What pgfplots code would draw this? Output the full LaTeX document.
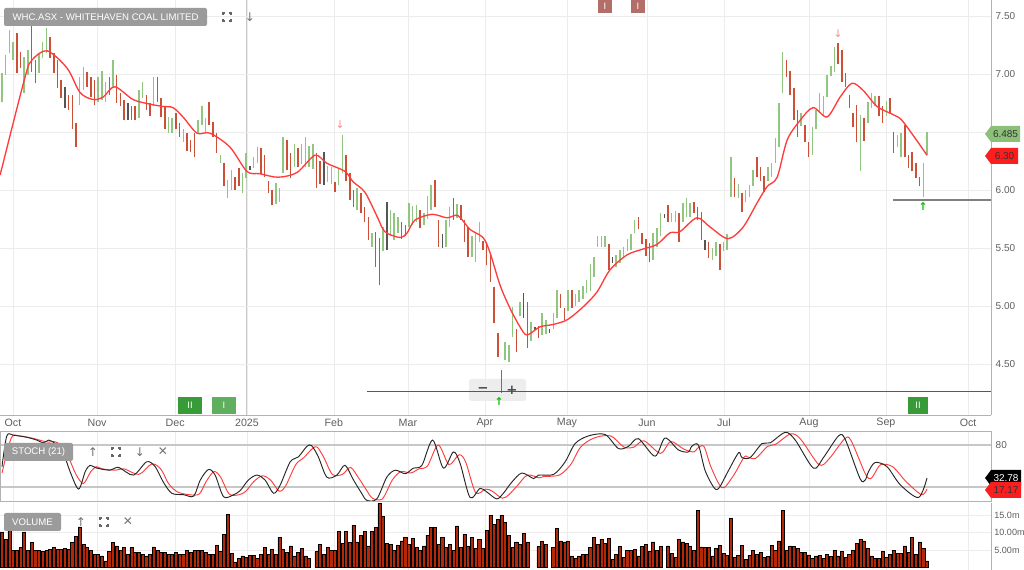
\documentclass[border=0pt]{standalone}
\usepackage{fontspec}
\setmainfont{Liberation Sans}
\newfontfamily\dejavu{DejaVu Sans}
\usepackage{pgfplots}
\usepackage{pgfplotstable}
\pgfplotsset{compat=1.18}

\definecolor{upg}{RGB}{145,198,128}
\definecolor{dnr}{RGB}{203,80,55}
\definecolor{ntg}{RGB}{85,85,85}
\definecolor{mared}{RGB}{255,60,60}
\definecolor{volc}{RGB}{178,40,8}
\definecolor{gridc}{RGB}{236,236,236}
\definecolor{lbl}{RGB}{95,95,95}
\definecolor{boxg}{RGB}{155,155,155}
\definecolor{tagg}{RGB}{140,192,120}
\definecolor{tagr}{RGB}{250,30,30}
\definecolor{sigg}{RGB}{55,155,55}
\definecolor{evb}{RGB}{180,110,105}

% price bars: index, high, low
\pgfplotstableread{
i h l
0 7.01 6.76
1 7.16 6.99
2 7.38 7.18
3 7.28 7.12
6 7.15 6.84
7 7.21 6.99
10 7.18 7.01
11 7.28 7.14
12 7.40 7.18
21 6.97 6.73
22 7.06 6.86
26 6.97 6.76
27 7.03 6.78
28 6.93 6.76
30 7.12 6.88
37 6.86 6.62
38 6.93 6.79
41 6.97 6.72
45 6.63 6.49
46 6.62 6.49
49 6.53 6.41
53 6.60 6.49
54 6.72 6.56
55 6.62 6.50
59 6.30 6.23
61 6.09 5.93
62 6.17 6.00
65 6.15 5.97
66 6.32 6.10
68 6.28 6.19
69 6.37 6.23
74 6.06 5.88
75 6.02 5.90
76 6.46 6.15
79 6.40 6.20
81 6.40 6.22
82 6.46 6.20
83 6.38 6.20
84 6.40 6.18
88 6.21 6.07
89 6.20 6.05
91 6.19 6.04
92 6.47 6.15
96 6.02 5.83
100 5.63 5.51
103 5.68 5.47
105 5.83 5.60
106 5.80 5.57
107 5.77 5.63
110 5.89 5.68
111 5.86 5.70
112 5.87 5.72
114 5.80 5.70
115 5.95 5.75
116 6.04 5.83
120 5.74 5.51
121 5.85 5.68
123 5.88 5.76
127 5.60 5.42
128 5.63 5.38
129 5.72 5.55
136 4.69 4.53
137 4.66 4.52
138 4.99 4.73
140 5.03 4.91
143 4.86 4.70
146 4.94 4.75
147 4.88 4.76
149 4.94 4.80
150 5.14 4.90
153 5.14 4.96
155 5.10 5.00
156 5.14 5.03
157 5.17 5.06
158 5.22 5.11
159 5.36 5.13
160 5.42 5.25
161 5.60 5.51
162 5.60 5.51
163 5.60 5.51
166 5.44 5.34
167 5.48 5.37
168 5.51 5.42
169 5.58 5.47
170 5.62 5.48
171 5.74 5.63
176 5.63 5.40
177 5.67 5.51
178 5.80 5.60
181 5.80 5.72
182 5.82 5.72
184 5.89 5.72
185 5.93 5.77
186 5.89 5.77
192 5.50 5.40
193 5.55 5.43
195 5.55 5.47
196 5.62 5.48
197 6.28 5.94
199 6.05 5.93
201 6.00 5.90
202 6.04 5.94
203 6.17 6.03
207 6.20 6.08
208 6.23 6.11
209 6.45 6.23
210 6.75 6.37
211 7.19 6.84
216 6.66 6.55
219 6.54 6.30
220 6.69 6.53
221 6.84 6.67
222 6.81 6.64
223 6.99 6.80
224 7.07 6.98
225 7.23 7.02
232 6.65 6.16
234 6.76 6.58
235 6.84 6.71
236 6.81 6.72
239 6.77 6.64
242 6.47 6.37
243 6.49 6.28
249 6.23 5.94
250 6.50 6.30
}\upbars

\pgfplotstableread{
i h l
4 7.35 7.01
5 7.19 7.05
8 7.47 7.02
9 7.12 6.92
13 7.32 7.14
14 7.18 7.01
15 7.12 6.88
16 6.95 6.79
18 6.82 6.69
19 6.82 6.53
20 6.58 6.37
23 7.02 6.89
24 6.97 6.80
25 6.95 6.73
29 6.97 6.82
31 6.99 6.75
32 6.84 6.72
33 6.78 6.60
35 6.72 6.60
36 6.72 6.60
39 6.82 6.69
40 6.75 6.64
42 6.97 6.76
43 6.79 6.63
44 6.72 6.53
47 6.66 6.53
48 6.58 6.46
50 6.49 6.34
51 6.43 6.33
52 6.49 6.28
56 6.76 6.56
57 6.59 6.46
58 6.49 6.32
60 6.23 6.03
63 6.11 6.00
64 6.19 6.03
70 6.36 6.14
71 6.30 6.11
72 6.08 5.97
73 6.00 5.87
77 6.43 6.17
78 6.32 6.10
80 6.36 6.20
85 6.32 6.02
86 6.25 6.05
90 6.07 5.98
93 6.30 6.08
94 6.15 5.91
95 6.00 5.85
97 5.97 5.80
98 5.85 5.72
99 5.77 5.57
101 5.64 5.34
102 5.59 5.18
108 5.72 5.58
109 5.70 5.60
113 5.83 5.67
117 6.09 5.85
118 5.74 5.51
122 5.93 5.74
124 5.87 5.74
125 5.74 5.55
126 5.68 5.42
130 5.56 5.48
131 5.55 5.35
132 5.46 5.21
133 5.16 4.85
134 4.77 4.56
135 4.45 4.25
139 4.80 4.60
142 5.03 4.64
145 4.83 4.72
151 5.10 4.98
152 4.98 4.88
154 5.14 4.98
164 5.53 5.31
172 5.77 5.66
173 5.63 5.53
174 5.58 5.43
175 5.54 5.38
180 5.87 5.72
183 5.80 5.55
187 5.90 5.80
188 5.85 5.74
189 5.81 5.57
191 5.55 5.41
194 5.53 5.31
198 6.10 5.94
200 5.97 5.81
204 6.28 6.11
205 6.20 6.08
206 6.12 5.98
212 7.12 6.97
213 7.03 6.82
214 6.88 6.60
215 6.69 6.46
217 6.56 6.41
218 6.41 6.28
226 7.27 7.09
227 7.21 6.93
228 7.01 6.89
229 6.82 6.71
230 6.66 6.54
231 6.73 6.41
233 6.62 6.42
237 6.81 6.64
238 6.72 6.58
240 6.79 6.66
241 6.50 6.32
244 6.56 6.28
245 6.30 6.19
246 6.33 6.16
247 6.23 6.10
248 6.11 6.03
}\dnbars

\pgfplotstableread{
i h l
17 6.89 6.71
34 6.75 6.60
67 6.21 6.17
87 6.33 6.04
104 5.90 5.48
119 5.62 5.50
141 5.11 4.90
144 4.82 4.79
148 4.80 4.77
165 5.42 5.37
179 5.79 5.76
190 5.57 5.48
}\ntbars

% moving average
\pgfplotstableread{
i m
-0.5 6.13
6.2 6.97
8.1 7.12
12.2 7.20
17.6 7.05
21.1 6.84
24.6 6.78
27.3 6.80
30.5 6.89
35.4 6.78
40.0 6.74
43.5 6.72
46.2 6.71
48.9 6.63
52.7 6.49
56.2 6.49
61.6 6.37
66.2 6.16
69.7 6.14
74.6 6.11
79.7 6.15
84.6 6.30
87.8 6.23
92.7 6.16
94.9 6.07
98.1 5.98
101.4 5.77
103.5 5.64
107.6 5.59
109.5 5.63
111.6 5.74
116.2 5.79
120.3 5.76
123.2 5.78
126.5 5.66
130.0 5.59
131.9 5.46
134.6 5.18
137.3 4.98
140.0 4.82
141.9 4.75
145.4 4.82
148.9 4.84
152.7 4.88
157.0 4.99
160.8 5.12
164.3 5.31
168.9 5.44
173.2 5.49
177.0 5.53
180.5 5.63
183.2 5.64
187.8 5.76
191.4 5.68
196.2 5.58
200.3 5.68
204.1 5.89
206.8 6.03
209.5 6.11
212.2 6.43
215.7 6.60
219.2 6.71
223.0 6.63
226.5 6.80
229.7 6.92
232.7 6.86
236.5 6.72
240.8 6.65
243.5 6.59
250.0 6.30
}\ma

% stochastic %K and %D
\pgfplotstableread{
i k
0 49
1.3 93
3.1 94
6.7 91
9.4 87
11.2 83
12.6 87
14.4 82
16.6 68
18.4 42
20.7 17
22.5 42
23.8 51
25.6 47
29.2 44
31.5 48
35.5 37
39.1 56
41.4 49
43.6 27
45.9 11
49.1 9
51.8 7
53.6 30
55.8 45
57.6 37
59.9 6
62.6 9
64.4 15
66.6 30
68.9 37
71.1 30
73.4 11
75.2 23
77.9 56
80.1 63
82.4 78
83.7 79
85.5 63
87.8 34
90.5 37
92.7 51
95.0 30
97.2 11
98.6 1
101.3 3
104.0 34
106.3 44
109.0 39
111.2 47
113.5 51
116.4 87
119.3 47
122.0 70
123.8 54
126.5 5
129.2 18
131.0 13
133.7 3
135.5 11
137.8 27
140.5 40
143.7 32
145.0 37
149.1 38
152.2 56
154.9 82
158.5 93
163.0 95
166.6 75
169.3 78
172.0 89
176.5 64
179.2 90
182.8 73
185.5 70
186.4 78
188.2 80
190.0 44
192.3 20
193.7 18
196.4 44
199.1 69
200.0 62
202.2 62
205.4 82
207.6 83
211.7 98
214.4 87
219.3 47
222.0 62
226.1 93
227.9 88
231.9 32
233.3 30
234.2 42
236.0 55
239.2 49
242.8 23
247.7 5
250.0 32.78
}\stk

\pgfplotstableread{
i d
0 40
2.5 90
4.5 93
8.0 90
10.8 86
12.7 84
14.0 85
15.9 80
18.0 62
20.0 38
22.0 25
24.0 42
25.5 49
27.0 46
30.7 44
33.0 46
37.0 38
40.5 53
43.0 45
45.0 25
47.4 13
50.6 9
53.3 10
55.2 28
57.3 42
59.1 34
61.4 10
64.1 9
65.9 14
68.1 28
70.4 36
72.6 30
74.9 14
76.7 22
79.4 52
81.6 62
83.9 75
85.2 77
87.0 62
89.3 38
92.0 38
94.2 48
96.5 32
98.7 14
100.1 4
102.8 3
105.5 30
107.8 42
110.5 40
112.7 46
115.0 50
117.9 80
120.8 52
123.5 66
125.3 56
128.0 12
130.7 17
132.5 14
135.2 4
137.0 9
139.3 22
142.0 37
145.2 33
146.5 35
150.6 37
153.7 52
156.4 77
160.0 90
164.5 93
168.1 77
170.8 77
173.5 86
178.0 68
180.7 85
184.3 74
187.0 70
187.9 75
189.7 78
191.5 50
193.8 24
195.2 19
197.9 38
200.6 63
201.5 63
203.7 61
206.9 78
209.1 81
213.2 96
215.9 88
220.8 52
223.5 60
227.6 88
229.4 87
233.4 38
234.8 32
235.7 38
237.5 52
240.7 49
244.3 28
248.5 9
250.0 17.17
}\std

% volume in millions
\pgfplotstableread{
i v
0 10.2
1 8.1
2 10.7
3 4.8
4 4.8
5 5.7
6 10.2
7 4.8
8 7.1
9 4.8
10 4.8
11 4.5
12 4.8
13 5.2
14 5.7
15 5.2
16 5.2
17 5.5
18 5.2
19 7.1
20 9.0
21 11.6
22 6.7
23 5.7
24 4.8
25 3.8
26 3.8
27 3.3
28 1.9
29 4.5
30 7.1
31 6.2
32 4.8
33 5.7
34 3.8
35 5.7
36 4.3
37 4.3
38 3.8
39 3.3
40 3.8
41 5.9
42 5.0
43 4.3
44 4.3
45 3.8
46 3.8
47 4.3
48 3.8
49 3.8
50 5.0
51 4.3
52 4.8
53 4.8
54 4.8
55 4.3
56 3.8
57 3.8
58 6.4
59 4.5
60 9.5
61 15.2
62 4.0
63 1.6
64 2.6
65 3.3
66 2.9
67 3.5
68 3.5
69 2.6
70 3.8
71 5.7
72 3.8
73 5.2
74 3.8
75 8.6
76 5.2
77 4.3
78 6.2
79 3.3
80 4.3
81 5.4
82 3.3
83 2.7
85 4.5
86 6.7
87 3.8
88 5.7
89 4.8
90 4.8
91 10.3
92 7.0
93 10.3
94 7.1
95 12.1
96 7.3
97 9.2
98 10.3
99 6.2
100 10.3
101 11.4
102 18.3
103 14.6
104 7.0
105 6.7
106 4.8
107 6.4
108 7.6
109 8.6
110 6.7
111 8.3
112 5.7
113 4.8
114 6.2
115 9.2
116 11.4
117 11.4
118 6.7
119 8.6
120 5.7
121 6.7
122 4.8
123 11.9
124 5.7
125 9.5
126 6.2
127 8.6
128 5.4
129 8.1
130 5.4
131 10.5
132 15.0
133 12.4
134 13.8
135 14.8
136 12.9
137 9.2
138 5.7
139 7.3
140 6.7
141 9.8
142 7.3
145 6.0
146 7.5
147 6.7
149 5.7
150 11.1
151 7.6
152 7.3
153 7.6
154 3.3
155 2.6
156 3.3
157 3.8
158 3.8
159 5.7
160 8.6
161 6.7
162 8.1
163 7.0
164 8.4
165 2.4
166 3.8
167 6.0
168 2.9
169 4.8
170 4.8
171 5.2
172 3.3
173 6.0
174 6.7
175 4.5
176 7.3
177 4.8
178 6.0
180 6.2
181 4.0
182 2.9
183 8.1
184 7.3
185 7.0
186 6.2
187 4.8
188 16.4
189 5.9
190 5.7
191 5.7
192 3.3
193 5.4
194 6.4
195 4.0
196 3.5
197 14.1
198 2.9
199 3.5
200 6.4
201 2.4
202 3.5
203 4.8
204 3.8
205 4.3
206 2.9
207 3.1
208 6.4
209 4.8
210 7.6
211 16.4
212 5.0
213 6.2
214 6.0
215 5.4
216 4.3
217 4.3
218 3.6
219 2.6
220 3.3
221 3.5
222 2.6
223 3.8
224 3.1
225 4.8
226 3.3
227 4.5
228 2.9
229 3.8
230 5.0
231 7.0
232 8.1
233 7.6
234 5.4
235 3.3
236 2.6
237 2.6
238 4.5
239 2.9
240 3.8
241 5.0
242 4.1
243 4.1
244 6.2
245 4.3
246 8.6
247 3.8
248 7.3
249 5.4
250 1.9
}\vol

\pgfplotsset{
  panel/.style={
    scale only axis, anchor=south west, width=743.25pt,
    xmin=-0.54, xmax=267.3,
    xtick={2.97,25.7,46.8,66.2,89.7,109.7,130.5,152.7,174.3,195.1,218.1,238.9,261.1},
    xmajorgrids, ymajorgrids,
    x grid style={gridc}, y grid style={gridc},
    major tick length=0pt, tick style={draw=none},
    axis line style={draw=black!30},
    yticklabel pos=right,
    /pgf/number format/assume math mode=true,
    tick label style={text=lbl, font=\fontsize{7.5}{8}\selectfont},
  },
  ohlc/.style={draw=none, mark=none, forget plot,
    error bars/.cd, y dir=plus, y explicit, error mark=none,
    error bar style={draw=#1, solid, line width=1.1pt}},
}

\newcommand{\vtag}[6]{%
  \fill[#4] (#1,#2) -- (#1+6,#2-8) -- (#3,#2-8) -- (#3,#2+8) -- (#1+6,#2+8) -- cycle;
  \node[text=#5, font=\fontsize{7.5}{8}\selectfont, inner sep=0pt] at ({(#1+6+#3)/2},#2) {#6};}
\newcommand{\fsicon}[2]{%
  \draw[black!60, line width=0.9pt]
    (#1-4,#2-2)--(#1-4,#2-4)--(#1-2,#2-4) (#1+2,#2-4)--(#1+4,#2-4)--(#1+4,#2-2)
    (#1+4,#2+2)--(#1+4,#2+4)--(#1+2,#2+4) (#1-2,#2+4)--(#1-4,#2+4)--(#1-4,#2+2);}

\begin{document}
\begin{tikzpicture}
\useasboundingbox (0,0) rectangle (768pt,427.5pt);
\fill[white] (0,0) rectangle (768pt,427.5pt);

% things behind the price bars, in image pixels
\begin{scope}[x=0.75pt, y=-0.75pt, yshift=427.5pt]
  \fill[black!7, rounded corners=2pt] (469,379) rectangle (526,401);
  \draw[black!22, line width=0.8pt] (247,0) -- (247,415);
\end{scope}

% price panel
\begin{axis}[panel, at={(0pt,116.25pt)}, height=311.25pt,
  ymin=4.06, ymax=7.638,
  axis x line*=bottom, axis y line*=right,
  xticklabels={Oct,Nov,Dec,2025,Feb,Mar,Apr,May,Jun,Jul,Aug,Sep,Oct},
  xticklabel style={anchor=center, yshift=-6pt, font=\fontsize{8}{9}\selectfont},
  ytick={4.5,5,5.5,6,6.5,7,7.5},
  yticklabels={4.50,5.00,5.50,6.00,,7.00,7.50},
]
\addplot[ohlc=upg] table[x=i, y=l, y error plus expr=\thisrow{h}-\thisrow{l}] {\upbars};
\addplot[ohlc=dnr] table[x=i, y=l, y error plus expr=\thisrow{h}-\thisrow{l}] {\dnbars};
\addplot[ohlc=ntg] table[x=i, y=l, y error plus expr=\thisrow{h}-\thisrow{l}] {\ntbars};
\addplot[mared, line width=1pt, smooth, tension=0.5] table[x=i, y=m] {\ma};
\end{axis}

% stochastic panel
\begin{axis}[panel, at={(0pt,51.75pt)}, height=52.5pt,
  ymin=0, ymax=100,
  xticklabels={},
  ytick={20,80}, yticklabels={,80},
  y grid style={black!22, line width=1.2pt},
]
\addplot[mared, line width=0.7pt, smooth, tension=0.5] table[x=i, y=d] {\std};
\addplot[black!85, line width=0.7pt, smooth, tension=0.5] table[x=i, y=k] {\stk};
\end{axis}

% volume panel
\begin{axis}[panel, at={(0pt,0pt)}, height=50.25pt,
  ymin=-0.71, ymax=18.43,
  axis x line*=bottom, axis y line*=right,
  xticklabels={},
  ytick={5,10,15}, yticklabels={5.00m,10.00m,15.0m},
  yticklabel style={font=\fontsize{6.8}{7}\selectfont, xshift=-1pt},
]
\addplot[ybar, bar width=0.82, fill=volc, draw=black, line width=0.45pt] table[x=i, y=v] {\vol};
\end{axis}

% annotations on top, in image pixels
\begin{scope}[x=0.75pt, y=-0.75pt, yshift=427.5pt]
  \draw[black!65, line width=1.1pt] (367,391.5) -- (991,391.5);
  \draw[black!50, line width=1.1pt] (893,200) -- (991,200);
  \node[text=black!70, font=\bfseries\fontsize{10}{10}\selectfont, inner sep=0pt] at (483,390) {\dejavu −};
  \node[text=black!70, font=\bfseries\fontsize{10}{10}\selectfont, inner sep=0pt] at (512,390) {\dejavu +};
  % signal arrows
  \node[text=mared!60, font=\dejavu\fontsize{8}{8}\selectfont, inner sep=0pt] at (340,125) {↓};
  \node[text=mared!60, font=\dejavu\fontsize{8}{8}\selectfont, inner sep=0pt] at (838,34) {↓};
  \node[text=green!75!black, font=\dejavu\bfseries\fontsize{8}{8}\selectfont, inner sep=0pt] at (499,402) {↑};
  \node[text=green!75!black, font=\dejavu\bfseries\fontsize{8}{8}\selectfont, inner sep=0pt] at (923,207) {↑};
  % event boxes
  \fill[sigg] (178,397) rectangle (202,414);
  \node[text=white, font=\fontsize{7}{7}\selectfont, inner sep=0pt] at (190,405.5) {II};
  \fill[sigg!80] (212,397) rectangle (236,414);
  \node[text=white, font=\fontsize{7}{7}\selectfont, inner sep=0pt] at (224,405.5) {I};
  \fill[sigg] (908,397) rectangle (928,414);
  \node[text=white, font=\fontsize{7}{7}\selectfont, inner sep=0pt] at (918,405.5) {II};
  \fill[evb] (598,0) rectangle (612,13);
  \node[text=white, font=\fontsize{7}{7}\selectfont, inner sep=0pt] at (605,6.5) {I};
  \fill[evb] (631,0) rectangle (645,13);
  \node[text=white, font=\fontsize{7}{7}\selectfont, inner sep=0pt] at (638,6.5) {I};
  % title and panel labels
  \fill[boxg, rounded corners=1.5pt] (4,8) rectangle (207,26);
  \node[text=white, font=\fontsize{7.2}{8}\selectfont, inner sep=0pt] at (105.5,17) {WHC.ASX - WHITEHAVEN COAL LIMITED};
  \fsicon{227}{17}
  \node[text=black!55, font=\dejavu\fontsize{9}{9}\selectfont, inner sep=0pt] at (250,17) {↓};
  \fill[boxg, rounded corners=1.5pt] (4,443) rectangle (73,461);
  \node[text=white, font=\fontsize{7.2}{8}\selectfont, inner sep=0pt] at (38.5,452) {STOCH (21)};
  \node[text=black!55, font=\dejavu\fontsize{9}{9}\selectfont, inner sep=0pt] at (93,452) {↑};
  \fsicon{116}{452}
  \node[text=black!55, font=\dejavu\fontsize{9}{9}\selectfont, inner sep=0pt] at (140,452) {↓};
  \node[text=black!55, font=\dejavu\fontsize{9}{9}\selectfont, inner sep=0pt] at (163,452) {✕};
  \fill[boxg, rounded corners=1.5pt] (4,513) rectangle (61,531);
  \node[text=white, font=\fontsize{7.2}{8}\selectfont, inner sep=0pt] at (32.5,522) {VOLUME};
  \node[text=black!55, font=\dejavu\fontsize{9}{9}\selectfont, inner sep=0pt] at (81,522) {↑};
  \fsicon{104}{522}
  \node[text=black!55, font=\dejavu\fontsize{9}{9}\selectfont, inner sep=0pt] at (128,522) {✕};
  % last value tags
  \vtag{985}{134}{1020}{tagg}{black!80}{6.485}
  \vtag{985}{156}{1018}{tagr}{black!80}{6.30}
  \vtag{985}{478}{1021}{black}{white}{32.78}
  \vtag{985}{490}{1021}{tagr}{black!80}{17.17}
\end{scope}
\end{tikzpicture}
\end{document}
